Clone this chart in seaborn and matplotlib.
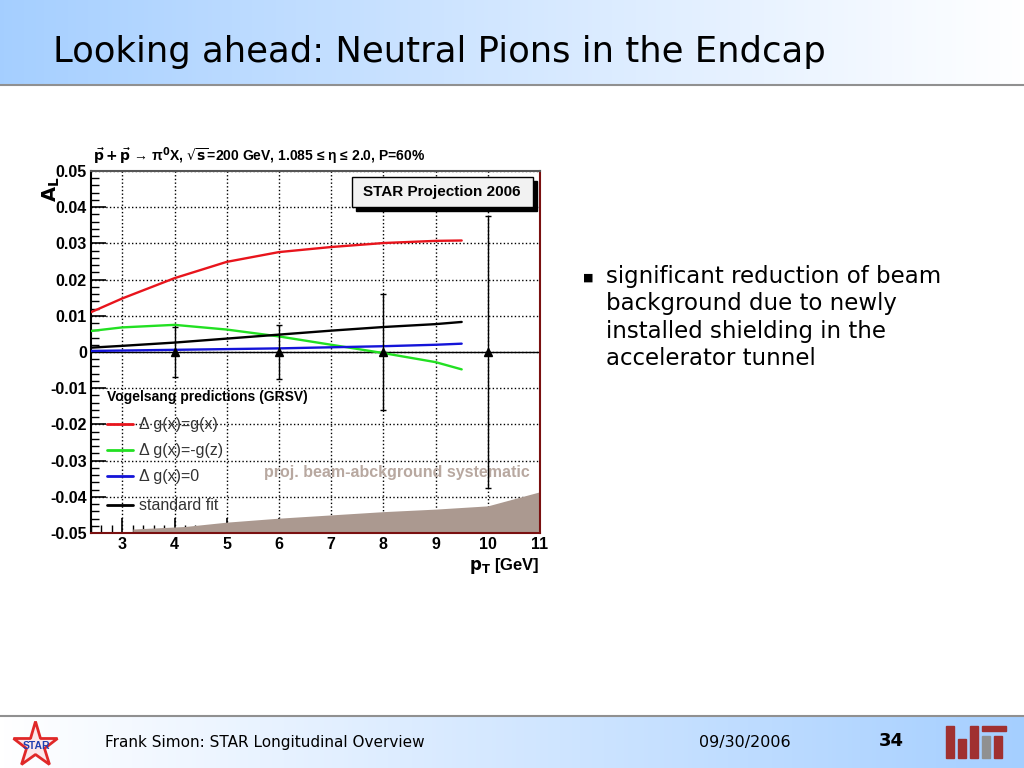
import numpy as np
import pandas as pd
import seaborn as sns
import matplotlib.pyplot as plt
from matplotlib.ticker import MultipleLocator
from matplotlib.patches import Rectangle

# curve values
pt_curve = [2.4, 3.0, 4.0, 5.0, 6.0, 7.0, 8.0, 9.0, 9.5]
al_gx = [0.0110, 0.0148, 0.0204, 0.0249, 0.0276, 0.0290, 0.0301, 0.0307, 0.0308]
al_mgz = [0.0058, 0.0068, 0.0075, 0.0062, 0.0043, 0.0020, -0.0003, -0.0028, -0.0048]
al_zero = [0.0003, 0.0004, 0.0006, 0.0008, 0.0010, 0.0013, 0.0016, 0.0020, 0.0023]
al_std = [0.0012, 0.0017, 0.0026, 0.0037, 0.0048, 0.0059, 0.0069, 0.0077, 0.0083]

# projected data points
pt_points = [4, 6, 8, 10]
al_points = [0, 0, 0, 0]
al_err = [0.0069, 0.0075, 0.0159, 0.0377]

# beam background systematic band
pt_sys = [3.2, 4.2, 5.0, 6.0, 7.0, 8.0, 9.0, 10.0, 11.0]
sys_top = [-0.0489, -0.0482, -0.0470, -0.0459, -0.0450, -0.0441, -0.0434, -0.0425, -0.0386]

series_names = ["Δ g(x)=g(x)", "Δ g(x)=-g(z)", "Δ g(x)=0", "standard fit"]
series_colors = ["#e8141c", "#22e022", "#1414d8", "#000000"]

curves = pd.concat([
    pd.DataFrame({"pt": pt_curve, "al": vals, "model": name})
    for name, vals in zip(series_names, [al_gx, al_mgz, al_zero, al_std])
])

sns.set_style("white")
plt.rcParams['font.family'] = ['Liberation Sans', 'DejaVu Sans']
plt.rcParams.update({"text.color": "black", "axes.labelcolor": "black",
                     "xtick.color": "black", "ytick.color": "black"})

fig = plt.figure(figsize=(10.24, 7.68), dpi=100)

# slide background: header and footer gradients
bg = fig.add_axes([0, 0, 1, 1], zorder=-10)
bg.set_xlim(0, 1)
bg.set_ylim(0, 1)
bg.axis("off")
grad = np.linspace(0, 1, 256).reshape(1, -1)
light = np.array([0.58, 0.77, 1.0])
white = np.array([1.0, 1.0, 1.0])
head = light[None, None, :] * (1 - grad[..., None]) + white[None, None, :] * grad[..., None]
bg.imshow(head ** 0.8, extent=[0, 1, 1 - 85 / 768, 1], aspect="auto")
foot = white[None, None, :] * (1 - grad[..., None]) + light[None, None, :] * grad[..., None]
bg.imshow(foot ** 0.8, extent=[0, 1, 0, 1 - 717 / 768], aspect="auto")
bg.axhline(1 - 85 / 768, color="#909090", lw=1.5)
bg.axhline(1 - 716 / 768, color="#909090", lw=1.5)

fig.text(0.052, 1 - 52 / 768, "Looking ahead: Neutral Pions in the Endcap",
         fontsize=25.5, family=["DejaVu Sans"], va="center")
fig.text(0.574, 1 - 278 / 768, "■", fontsize=8, va="center", ha="center",
         family=["DejaVu Sans"])
bullet = ("significant reduction of beam\nbackground due to newly\n"
          "installed shielding in the\naccelerator tunnel")
fig.text(0.592, 1 - 265 / 768, bullet, fontsize=16.5, va="top",
         family=["DejaVu Sans"], linespacing=1.25)

fig.text(0.103, 1 - 742 / 768, "Frank Simon: STAR Longitudinal Overview",
         fontsize=11, va="center", family=["DejaVu Sans"])
fig.text(0.683, 1 - 742 / 768, "09/30/2006", fontsize=11.5, va="center",
         family=["DejaVu Sans"])
fig.text(0.858, 1 - 741 / 768, "34", fontsize=13, va="center",
         weight="bold", family=["DejaVu Sans"])
bg.plot([0.034], [1 - 745 / 768], marker="*", ms=34, mfc="#fbe8ea",
        mec="#e02828", mew=2)
fig.text(0.036, 1 - 746 / 768, "STAR", fontsize=7.5, color="#2040b0",
         va="center", ha="center", weight="bold")
bar_h = [1.0, 0.6, 1.0, 0.7, 0.7]
bar_c = ["#a03030", "#a03030", "#a03030", "#909090", "#a03030"]
for i, (h, c) in enumerate(zip(bar_h, bar_c)):
    fig.add_artist(Rectangle(((946 + i * 12) / 1024, 1 - 758 / 768), 8 / 1024,
                             h * 32 / 768, color=c, transform=fig.transFigure))
fig.add_artist(Rectangle((982 / 1024, 1 - 731 / 768), 24 / 1024, 5 / 768,
                         color="#a03030", transform=fig.transFigure))

# the chart
ax = fig.add_axes([91 / 1024, 1 - 533 / 768, 449 / 1024, 362 / 768])
ax.fill_between(pt_sys, -0.05, sys_top, color="#ab9990", lw=0, zorder=1)
sns.lineplot(data=curves, x="pt", y="al", hue="model", palette=series_colors,
             hue_order=series_names, lw=1.7, ax=ax, legend=False, zorder=3)
ax.axhline(0, color="black", lw=1, zorder=2)
ax.errorbar(pt_points, al_points, yerr=al_err, fmt="^", color="black",
            ms=6, lw=1, capsize=2.5, zorder=4)

ax.set_xlim(2.4, 11)
ax.set_ylim(-0.05, 0.05)
ax.xaxis.set_minor_locator(MultipleLocator(0.2))
ax.yaxis.set_minor_locator(MultipleLocator(0.002))
ax.set_yticks(np.arange(-0.05, 0.0501, 0.01))
ax.set_yticklabels(["-0.05", "-0.04", "-0.03", "-0.02", "-0.01", "0",
                    "0.01", "0.02", "0.03", "0.04", "0.05"])
ax.set_xticks(range(3, 12))
ax.set_xticklabels([str(v) for v in range(3, 12)])
ax.tick_params(which="both", direction="in", left=True, bottom=True,
               top=False, right=False)
ax.tick_params(which="major", length=11, width=1.2, labelsize=11.5, pad=3)
ax.tick_params(which="minor", length=6, width=1)
for lab in ax.get_xticklabels() + ax.get_yticklabels():
    lab.set_fontweight("bold")
ax.grid(True, which="major", ls=":", color="black", lw=1)
ax.set_xlabel("")
ax.set_ylabel("")
for side, col in [("left", "black"), ("top", "#555555"),
                  ("right", "#7a1010"), ("bottom", "#7a1010")]:
    ax.spines[side].set_color(col)
    ax.spines[side].set_linewidth(1.5)

ax.text(0.005, 1.012, r"$\mathbf{\vec{p}+\vec{p}}$ → π$^{\mathbf{0}}$X, $\sqrt{\mathbf{s}}$=200 GeV, 1.085 ≤ η ≤ 2.0, P=60%",
        transform=ax.transAxes, fontsize=10, weight="bold", va="bottom")
ax.text(-0.088, 0.985, r"$\mathbf{A_L}$", transform=ax.transAxes, rotation=90,
        fontsize=14, va="top", ha="center")
ax.text(1.0, -0.09, r"$\mathbf{p_T}$ [GeV]", transform=ax.transAxes,
        fontsize=12, weight="bold", ha="right", va="center")

# STAR projection box with shadow
ax.add_patch(Rectangle((0.590, 0.889), 0.403, 0.083, transform=ax.transAxes,
                       color="black", zorder=5, clip_on=False))
ax.add_patch(Rectangle((0.581, 0.900), 0.403, 0.083, transform=ax.transAxes,
                       facecolor="#f2f2f2", edgecolor="black", lw=1, zorder=6,
                       clip_on=False))
ax.text(0.782, 0.942, "STAR Projection 2006", transform=ax.transAxes,
        fontsize=11, weight="bold", ha="center", va="center", zorder=7)

# legend drawn as text inside axes
ax.text(0.036, 0.376, "Vogelsang predictions (GRSV)", transform=ax.transAxes,
        fontsize=10, weight="bold", va="center", zorder=6)
leg_y = [0.301, 0.229, 0.157, 0.077]
for name, col, yy in zip(series_names, series_colors, leg_y):
    ax.plot([0.036, 0.094], [yy, yy], color=col, lw=2, transform=ax.transAxes, zorder=6)
    ax.text(0.107, yy, name, transform=ax.transAxes, fontsize=11.5,
            va="center", color="#333333", zorder=6)

ax.text(0.978, 0.166, "proj. beam-abckground systematic", transform=ax.transAxes,
        fontsize=11.5, weight="bold", color="#b8a8a0", ha="right", va="center", zorder=2)

fig.savefig("out.png", dpi=100)
